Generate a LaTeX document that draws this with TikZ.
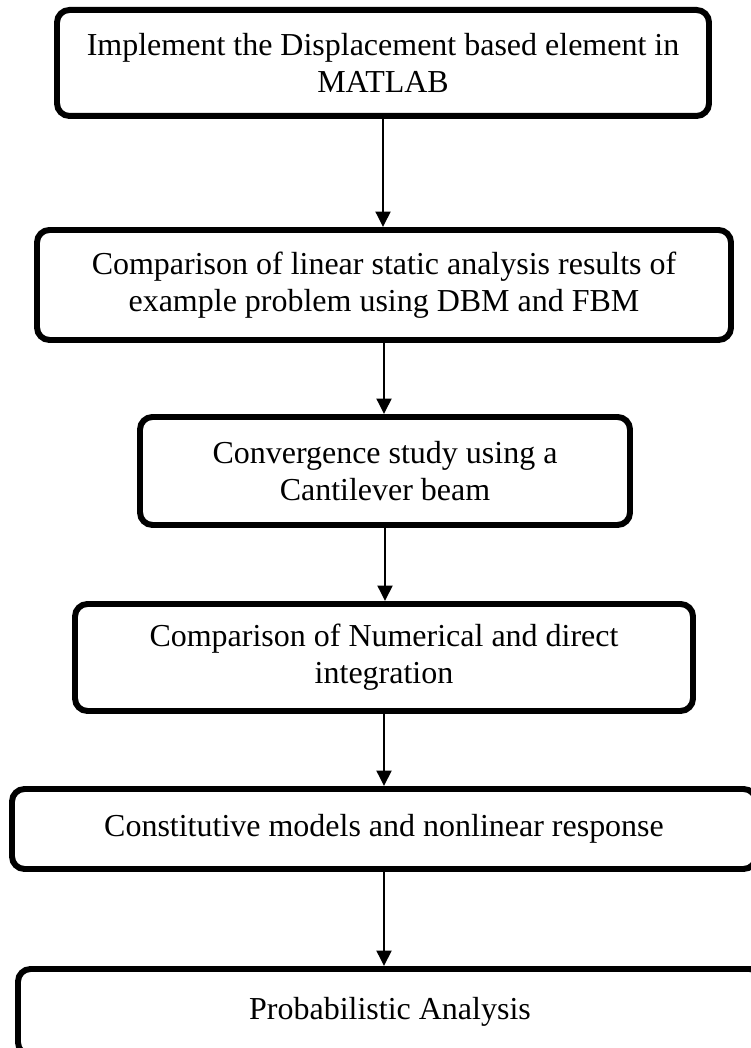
\documentclass[tikz,border=0pt]{standalone}
\usepackage{fontspec}
\setmainfont{Liberation Serif}
\usetikzlibrary{arrows.meta, positioning}
\tikzset{
  stepbox/.style   = {draw, line width=3.4pt, rounded corners=0.25cm, align=center,
                      inner sep=0pt, font=\fontsize{18.2}{21.05}\selectfont},
  flowarrow/.style = {-{Triangle[length=3.1mm, width=3.0mm]}, line width=1.1pt},
}

\begin{document}
\begin{tikzpicture}
  \useasboundingbox (0,0) rectangle (15.02,20.96);
  % the six steps, top to bottom (the last two run past the page edge)
  \node[stepbox, minimum width=13.04cm, minimum height=2.12cm] (b1) at (7.66,19.70)
    {Implement the Displacement based element in\\MATLAB};
  \node[stepbox, minimum width=13.88cm, minimum height=2.20cm] (b2) at (7.68,15.26)
    {Comparison of linear static analysis results of\\example problem using DBM and FBM};
  \node[stepbox, minimum width=9.80cm, minimum height=2.16cm] (b3) at (7.70,11.54)
    {Convergence study using a\\Cantilever beam};
  \node[stepbox, minimum width=12.36cm, minimum height=2.14cm] (b4) at (7.68,7.81)
    {Comparison of Numerical and direct\\integration};
  \node[stepbox, minimum width=14.88cm, minimum height=1.60cm] (b5) at (7.68,4.38)
    {Constitutive models and nonlinear response};
  \node[stepbox, minimum width=14.88cm, minimum height=1.72cm] (b6) at (7.80,0.72)
    {Probabilistic Analysis};
  % arrows straight down from each step to the next
  \foreach \i/\j in {1/2,2/3,3/4,4/5,5/6}
    \draw[flowarrow] (b\i.south) -- (b\i.south |- b\j.north);
\end{tikzpicture}
\end{document}
